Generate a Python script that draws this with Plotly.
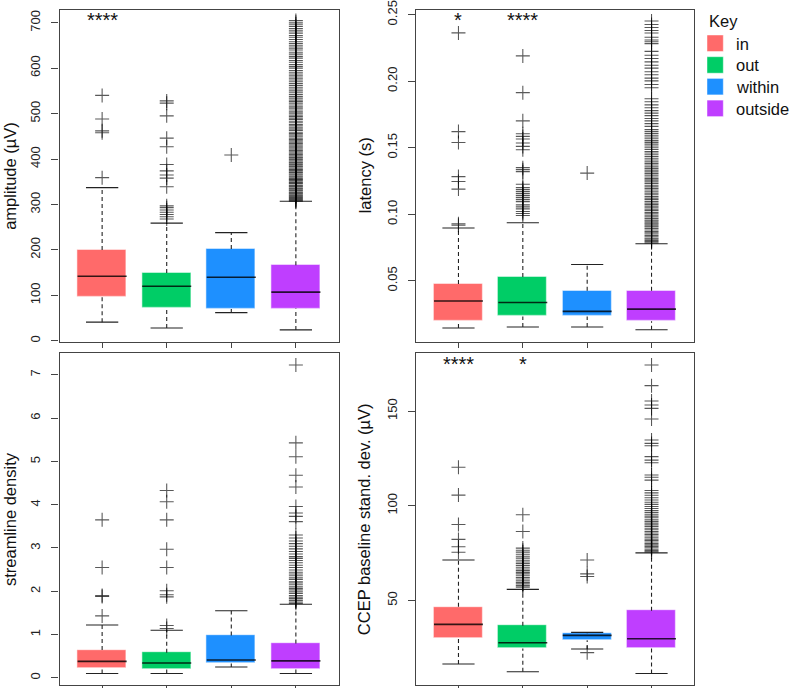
import plotly.graph_objects as go

# ---------------- data ----------------
categories = ["in", "out", "within", "outside"]
colors = ["#FF6A6A", "#00CD66", "#1E90FF", "#BF3EFF"]

# amplitude (uV)
amp_lower = [41, 28, 62, 24]
amp_q1 = [96, 73, 70, 71]
amp_median = [142, 120, 140, 107]
amp_q3 = [200, 149, 202, 166]
amp_upper = [337, 259, 238, 307]
amp_out_in = [359, 458, 462, 488, 540]
amp_out_out = [268, 273, 278, 283, 288, 293, 297, 339, 358, 365, 374, 388, 427, 446, 495, 523, 528]
amp_out_within = [409]
amp_out_outside = [307, 309, 311, 313, 315, 317, 319, 321, 323, 325, 327, 330, 332, 334, 336, 339, 341,
                   343, 346, 348, 350, 353, 355, 357, 360, 362, 365, 367, 370, 372, 375, 377, 380, 383,
                   385, 388, 391, 393, 396, 399, 402, 404, 407, 410, 413, 416, 419, 422, 425, 428, 431,
                   434, 437, 440, 443, 446, 450, 453, 456, 459, 463, 466, 469, 473, 476, 480, 483, 487,
                   490, 494, 497, 501, 504, 508, 512, 515, 519, 523, 527, 530, 534, 538, 542, 546, 550,
                   554, 558, 562, 566, 570, 574, 578, 583, 587, 591, 595, 600, 604, 608, 613, 617, 622,
                   626, 631, 635, 640, 644, 649, 654, 658, 663, 668, 672, 677, 682, 687, 692, 697, 701,
                   705]

# latency (s)
lat_lower = [0.0145, 0.0152, 0.0152, 0.0132]
lat_q1 = [0.0195, 0.0232, 0.0232, 0.0195]
lat_median = [0.0348, 0.0337, 0.0270, 0.0287]
lat_q3 = [0.0475, 0.0528, 0.0425, 0.0425]
lat_upper = [0.0896, 0.0936, 0.0622, 0.0778]
lat_out_in = [0.0918, 0.0928, 0.1189, 0.1246, 0.1283, 0.1539, 0.1621, 0.2363]
lat_out_out = [0.0990, 0.1005, 0.1020, 0.1040, 0.1055, 0.1070, 0.1095, 0.1110, 0.1125, 0.1140,
               0.1155, 0.1170, 0.1185, 0.1200, 0.1225, 0.1320, 0.1335, 0.1350, 0.1485, 0.1510,
               0.1535, 0.1565, 0.1585, 0.1605, 0.1702, 0.1914, 0.2190]
lat_out_within = [0.1309]
lat_out_outside = [0.0785, 0.0795, 0.0803, 0.0812, 0.0820, 0.0831, 0.0840, 0.0852, 0.0861, 0.0870,
                   0.0882, 0.0893, 0.0905, 0.0914, 0.0926, 0.0935, 0.0948, 0.0957, 0.0969, 0.0981,
                   0.0992, 0.1004, 0.1013, 0.1027, 0.1038, 0.1049, 0.1061, 0.1074, 0.1085, 0.1096,
                   0.1110, 0.1121, 0.1133, 0.1146, 0.1158, 0.1169, 0.1182, 0.1194, 0.1207, 0.1218,
                   0.1231, 0.1243, 0.1256, 0.1268, 0.1280, 0.1293, 0.1305, 0.1318, 0.1331, 0.1343,
                   0.1356, 0.1370, 0.1382, 0.1395, 0.1408, 0.1421, 0.1434, 0.1447, 0.1460, 0.1472,
                   0.1486, 0.1500, 0.1513, 0.1527, 0.1540, 0.1553, 0.1567, 0.1580, 0.1594, 0.1607,
                   0.1621, 0.1636, 0.1660, 0.1681, 0.1702, 0.1720, 0.1741, 0.1760, 0.1779, 0.1800,
                   0.1822, 0.1845, 0.1868, 0.1951, 0.1975, 0.2002, 0.2023, 0.2048, 0.2071, 0.2098,
                   0.2120, 0.2145, 0.2170, 0.2195, 0.2224, 0.2282, 0.2296, 0.2310, 0.2330, 0.2362,
                   0.2381, 0.2403, 0.2426, 0.2452]

# streamline density
sd_lower = [0.10, 0.10, 0.25, 0.10]
sd_q1 = [0.23, 0.20, 0.33, 0.20]
sd_median = [0.38, 0.34, 0.41, 0.39]
sd_q3 = [0.64, 0.58, 0.98, 0.79]
sd_upper = [1.22, 1.10, 1.55, 1.70]
sd_out_in = [1.43, 1.88, 1.90, 2.55, 3.65]
sd_out_out = [1.14, 1.21, 1.87, 1.92, 2.01, 2.55, 2.97, 3.65, 4.07, 4.33]
sd_out_within = []
sd_out_outside = [1.72, 1.75, 1.79, 1.83, 1.86, 1.90, 1.95, 1.99, 2.03, 2.06, 2.10, 2.15, 2.19, 2.22,
                  2.27, 2.31, 2.36, 2.40, 2.44, 2.49, 2.55, 2.60, 2.66, 2.71, 2.76, 2.80, 2.86, 2.92,
                  2.98, 3.04, 3.10, 3.16, 3.23, 3.30, 3.61, 3.73, 3.81, 3.96, 4.41, 4.68, 5.11, 5.43,
                  7.23]

# CCEP baseline standard deviation (uV)
ccep_lower = [16.4, 12.3, 24.3, 11.4]
ccep_q1 = [30.2, 24.6, 28.9, 24.6]
ccep_median = [37.3, 27.6, 31.5, 29.7]
ccep_q3 = [46.6, 36.6, 32.6, 44.5]
ccep_upper = [71.3, 55.8, 33.1, 75.1]
ccep_out_in = [75.4, 78.3, 82.2, 90.1, 105.6, 120.3]
ccep_out_out = [57.0, 57.8, 58.7, 59.5, 60.4, 61.3, 62.1, 63.0, 64.0, 64.8, 65.7, 66.6, 67.5, 68.4,
                69.4, 70.3, 71.2, 72.3, 73.3, 74.4, 75.5, 76.5, 77.6, 86.4, 95.2]
ccep_out_within = [22.4, 62.6, 64.0, 71.3]
ccep_out_outside = [75.6, 76.3, 77.0, 77.8, 78.5, 79.3, 80.0, 80.8, 81.6, 82.3, 83.1, 84.0, 84.8, 85.6,
                    86.4, 87.3, 88.1, 89.0, 89.9, 90.8, 91.7, 92.6, 93.6, 94.5, 95.5, 96.5, 97.5, 98.5,
                    99.6, 100.7, 101.8, 103.0, 104.2, 105.5, 106.8, 108.0, 113.5, 115.0, 116.2, 122.7,
                    124.1, 125.9, 131.7, 132.9, 134.7, 145.8, 151.4, 153.2, 155.3, 163.4, 174.3]

# significance marks: (panel index, category index, label, y value)
sig_panel = [0, 1, 1, 3, 3]
sig_cat = [0, 0, 1, 0, 1]
sig_text = ["****", "*", "****", "****", "*"]
sig_y = [707, 0.2462, 0.2462, 175.0, 175.0]

# ---------------- layout constants ----------------
W, H = 790, 688
FONT = "Liberation Sans, Arial, Helvetica, sans-serif"
BOX_W = 0.76
CAP_HALF = 0.25
AX_COLOR = "#444444"

panels = [
    dict(lo=amp_lower, q1=amp_q1, med=amp_median, q3=amp_q3, hi=amp_upper,
         outs=[amp_out_in, amp_out_out, amp_out_within, amp_out_outside],
         px=(59.5, 338.5), py=(10, 341.7), yr=[-2, 728],
         tv=[0, 100, 200, 300, 400, 500, 600, 700], fmt="d",
         title="amplitude (\u00b5V)", tx=10),
    dict(lo=lat_lower, q1=lat_q1, med=lat_median, q3=lat_q3, hi=lat_upper,
         outs=[lat_out_in, lat_out_out, lat_out_within, lat_out_outside],
         px=(416, 694), py=(10, 341.7), yr=[0.0042, 0.2535],
         tv=[0.05, 0.10, 0.15, 0.20, 0.25], fmt=".2f",
         title="latency (s)", tx=364.5),
    dict(lo=sd_lower, q1=sd_q1, med=sd_median, q3=sd_q3, hi=sd_upper,
         outs=[sd_out_in, sd_out_out, sd_out_within, sd_out_outside],
         px=(59.5, 338.5), py=(353.3, 684.7), yr=[-0.16, 7.5],
         tv=[0, 1, 2, 3, 4, 5, 6, 7], fmt="d",
         title="streamline density", tx=10),
    dict(lo=ccep_lower, q1=ccep_q1, med=ccep_median, q3=ccep_q3, hi=ccep_upper,
         outs=[ccep_out_in, ccep_out_out, ccep_out_within, ccep_out_outside],
         px=(416, 694), py=(353.3, 685), yr=[5.3, 180.5],
         tv=[50, 100, 150], fmt="d",
         title="CCEP baseline stand. dev. (\u00b5V)", tx=364),
]

fig = go.Figure()
xpos = [1, 2, 3, 4]
annotations = []
shapes = []

for k, p in enumerate(panels):
    sfx = "" if k == 0 else str(k + 1)
    xa, ya = "x" + sfx, "y" + sfx
    # whiskers (dashed)
    wx, wy = [], []
    for i, x in enumerate(xpos):
        wx += [x, x, None, x, x, None]
        wy += [p["q3"][i], p["hi"][i], None, p["lo"][i], p["q1"][i], None]
    fig.add_trace(go.Scatter(x=wx, y=wy, mode="lines", xaxis=xa, yaxis=ya,
                             line=dict(color="#222222", width=1.1, dash="4px,3px"),
                             hoverinfo="skip", showlegend=False))
    # boxes
    fig.add_trace(go.Bar(x=xpos, y=[q3 - q1 for q1, q3 in zip(p["q1"], p["q3"])], base=p["q1"],
                         width=BOX_W, xaxis=xa, yaxis=ya, showlegend=False,
                         marker=dict(color=colors, line=dict(color="rgba(255,255,255,0.45)", width=1.2))))
    # caps
    cx, cy = [], []
    for i, x in enumerate(xpos):
        cx += [x - CAP_HALF, x + CAP_HALF, None, x - CAP_HALF, x + CAP_HALF, None]
        cy += [p["hi"][i], p["hi"][i], None, p["lo"][i], p["lo"][i], None]
    fig.add_trace(go.Scatter(x=cx, y=cy, mode="lines", xaxis=xa, yaxis=ya,
                             line=dict(color="#222222", width=1.1),
                             hoverinfo="skip", showlegend=False))
    # medians
    mx, my = [], []
    for i, x in enumerate(xpos):
        mx += [x - BOX_W / 2, x + BOX_W / 2, None]
        my += [p["med"][i], p["med"][i], None]
    fig.add_trace(go.Scatter(x=mx, y=my, mode="lines", xaxis=xa, yaxis=ya,
                             line=dict(color="rgba(0,0,0,0.8)", width=1.6),
                             hoverinfo="skip", showlegend=False))
    # outliers
    ox, oy = [], []
    for i, x in enumerate(xpos):
        ox += [x] * len(p["outs"][i])
        oy += p["outs"][i]
    fig.add_trace(go.Scatter(x=ox, y=oy, mode="markers", xaxis=xa, yaxis=ya, showlegend=False,
                             marker=dict(symbol="cross-thin", size=10,
                                         line=dict(color="rgba(0,0,0,0.65)", width=1.1))))

    xdom = [p["px"][0] / W, p["px"][1] / W]
    ydom = [1 - p["py"][1] / H, 1 - p["py"][0] / H]
    fig.update_layout(**{
        ("xaxis" + sfx): dict(domain=xdom, anchor=ya, range=[0.34, 4.66],
                              tickvals=xpos, ticktext=["", "", "", ""],
                              ticks="outside", ticklen=5, tickcolor=AX_COLOR,
                              showline=True, mirror=True, linecolor=AX_COLOR, linewidth=1.2,
                              showgrid=False, zeroline=False, fixedrange=True, automargin=False),
        ("yaxis" + sfx): dict(domain=ydom, anchor=xa, range=p["yr"],
                              tickvals=p["tv"], tickformat=p["fmt"], tickangle=-90,
                              ticks="outside", ticklen=7, tickcolor=AX_COLOR,
                              ticklabelstandoff=6,
                              tickfont=dict(family=FONT, size=13, color="#222222"),
                              showline=True, mirror=True, linecolor=AX_COLOR, linewidth=1.2,
                              showgrid=False, zeroline=False, fixedrange=True, automargin=False),
    })
    annotations.append(dict(text=p["title"], x=p["tx"] / W, y=1 - (p["py"][0] + p["py"][1]) / 2 / H,
                            xref="paper", yref="paper", xanchor="center", yanchor="middle",
                            textangle=-90, showarrow=False,
                            font=dict(family=FONT, size=16.5, color="#111111")))

# significance stars
for pk, ck, t, yv in zip(sig_panel, sig_cat, sig_text, sig_y):
    sfx = "" if pk == 0 else str(pk + 1)
    annotations.append(dict(text=t, x=xpos[ck], y=yv, xref="x" + sfx, yref="y" + sfx,
                            xanchor="center", yanchor="middle", showarrow=False,
                            font=dict(family=FONT, size=20, color="#111111")))

# legend ("Key")
annotations.append(dict(text="Key", x=707 / W, y=1 - 20.5 / H, xref="paper", yref="paper",
                        xanchor="left", yanchor="middle", showarrow=False,
                        font=dict(family=FONT, size=16.5, color="#111111")))
for i, (cat, col) in enumerate(zip(categories, colors)):
    top = 35 + i * 21.7
    shapes.append(dict(type="rect", xref="paper", yref="paper",
                       x0=707 / W, x1=723.3 / W, y0=1 - (top + 16.5) / H, y1=1 - top / H,
                       fillcolor=col, line=dict(color="rgba(255,255,255,0.45)", width=1)))
    annotations.append(dict(text=cat, x=734 / W, y=1 - (top + 8.5) / H, xref="paper", yref="paper",
                            xanchor="left", yanchor="middle", showarrow=False,
                            font=dict(family=FONT, size=16.5, color="#111111")))

fig.update_layout(width=W, height=H, margin=dict(l=0, r=0, t=0, b=0, autoexpand=False),
                  paper_bgcolor="white", plot_bgcolor="white",
                  annotations=annotations, shapes=shapes, showlegend=False,
                  bargap=0, font=dict(family=FONT))

fig.write_html("out.html", config={"displayModeBar": False},
               post_script="document.body.style.margin='0';document.body.style.overflow='hidden';")
